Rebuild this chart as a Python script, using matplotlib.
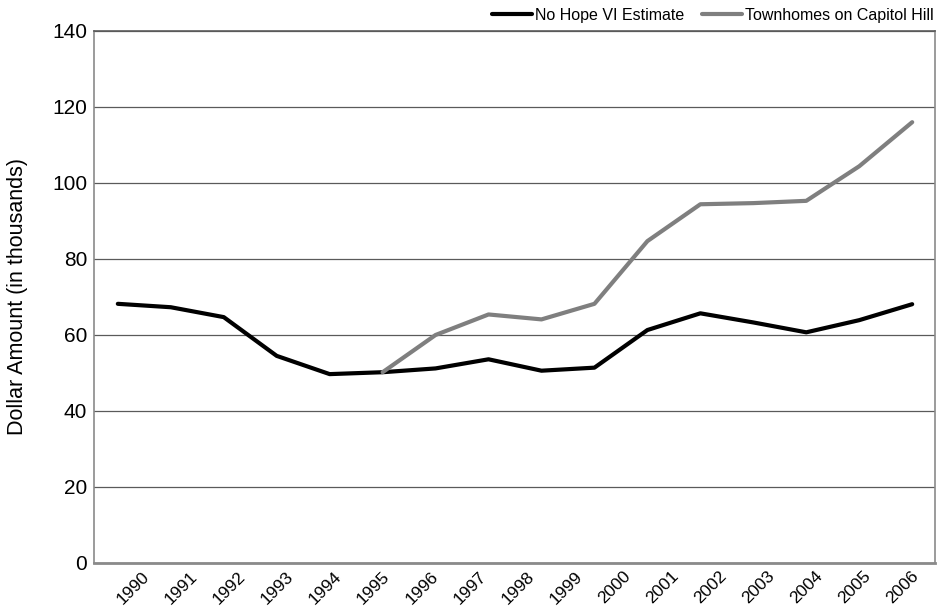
import numpy as np
import matplotlib
matplotlib.use('Agg')
import matplotlib.pyplot as plt

plt.rcParams['font.family'] = ['Liberation Sans', 'DejaVu Sans']

# Etiquetas del eje x (17 años) y valores (16 puntos)
years = ['1990', '1991', '1992', '1993', '1994', '1995', '1996', '1997', '1998',
         '1999', '2000', '2001', '2002', '2003', '2004', '2005', '2006']
no_hope = [68.2, 67.3, 64.7, 54.5, 49.7, 50.2, 51.2, 53.6, 50.6, 51.4,
           61.3, 65.7, 63.3, 60.7, 63.9, 68.1]
townhomes = [np.nan, np.nan, np.nan, np.nan, np.nan, 50.2, 60.0, 65.4, 64.1, 68.2,
             84.7, 94.4, 94.7, 95.3, 104.4, 116.0]

fig = plt.figure(figsize=(9.39, 6.11), dpi=100)
ax = fig.add_axes([0.1001, 0.0786, 0.8956, 0.8707])

x = np.arange(len(no_hope))
ax.plot(x, no_hope, color='#000000', lw=3.0, solid_capstyle='round',
        solid_joinstyle='round', label='No Hope VI Estimate', zorder=3)
ax.plot(x, townhomes, color='#7f7f7f', lw=3.0, solid_capstyle='round',
        solid_joinstyle='round', label='Townhomes on Capitol Hill', zorder=3)

ax.set_xlim(-0.45, 15.43)
ax.set_ylim(0, 140)
ax.set_yticks(range(0, 141, 20))
ax.yaxis.grid(True, color='#5a5a5a', lw=0.9)
ax.set_axisbelow(True)

# etiquetas de año repartidas a lo ancho del eje
ax.set_xticks(np.linspace(0.45, 14.98, len(years)))
ax.set_xticklabels(years, rotation=45, ha='right', va='top',
                   rotation_mode='anchor', fontsize=12.5)
ax.tick_params(axis='x', length=0, pad=4)
ax.tick_params(axis='y', length=0, pad=5, labelsize=15)

for side in ['left', 'right', 'top']:
    ax.spines[side].set_color('#8a8a8a')
    ax.spines[side].set_linewidth(1.2)
ax.spines['top'].set_color('#5a5a5a')
ax.spines['bottom'].set_color('#8a8a8a')
ax.spines['bottom'].set_linewidth(2.0)

ax.set_ylabel('Dollar Amount (in thousands)', fontsize=15.5, labelpad=17)

fig.legend(loc='center right', bbox_to_anchor=(0.994, 0.975), ncol=2,
           frameon=False, fontsize=11.5, handlelength=2.5, handletextpad=0.2,
           columnspacing=1.1, borderpad=0, borderaxespad=0)

plt.savefig('out.png', dpi=100)
plt.close()
